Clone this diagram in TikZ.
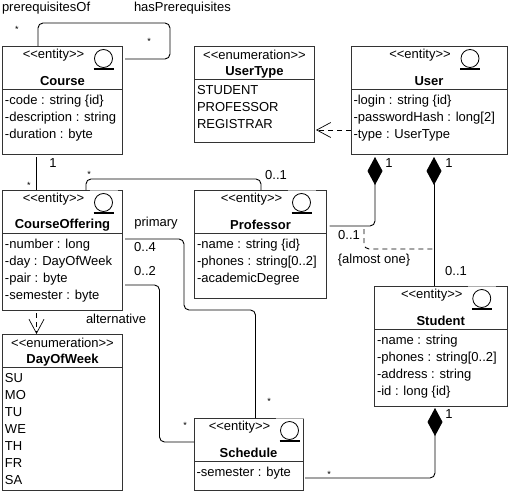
\documentclass[tikz,border=0pt]{standalone}
\usepackage{fontspec}
\usetikzlibrary{arrows.meta}
\newfontfamily\umlfont{Liberation Sans}
\tikzset{
    umlbox/.style={draw=black!80,line width=0.9pt,anchor=north west,inner sep=0pt,outer sep=0pt},
    umlrule/.style={draw=black!80,line width=0.9pt},
    umltext/.style={font=\umlfont\fontsize{13}{17}\selectfont,inner sep=0pt,outer sep=0pt},
    umlattrs/.style={umltext,anchor=north west,align=left},
    umltitle/.style={umltext,font=\umlfont\bfseries\fontsize{13}{17}\selectfont},
    umlicon/.style={draw=black,circle,line width=0.8pt,minimum size=18pt,inner sep=0pt},
    link/.style={draw=black,line width=0.9pt,rounded corners=5pt},
    dependency/.style={link,dashed,dash pattern=on 5pt off 4pt,-{Straight Barb[length=14pt,width=15pt,line width=0.7pt]}},
    owner/.style={link,-{Diamond[length=28pt,width=15pt]}},
    multi/.style={umltext},
    many/.style={umltext,font=\umlfont\fontsize{9}{9}\selectfont}
}
\newcommand{\entity}[7]{
    \node (#1) [umlbox,minimum width=#4pt,minimum height=#5pt] at (#2,#3) {};
    \draw [umlrule] ([yshift=-43pt]#1.north west) -- ([yshift=-43pt]#1.north east);
    \draw [white,opacity=0.6,line width=1pt] ([shift={(27pt,0pt)}]#1.north) -- ([shift={(55pt,0pt)}]#1.north);
    \node (#1Kind) [umltext] at ([shift={(-9pt,-9pt)}]#1.north) {<<entity>>};
    \node (#1Icon) [umlicon] at ([shift={(41pt,-12.5pt)}]#1.north) {};
    \draw [line width=1.3pt] ([shift={(-10pt,-1pt)}]#1Icon.south) -- ([shift={(10pt,-1pt)}]#1Icon.south);
    \node (#1Name) [umltitle] at ([yshift=-35pt]#1.north) {#6};
    \node (#1Attrs) [umlattrs] at ([shift={(2.5pt,-47pt)}]#1.north west) {\strut #7};
}
\newcommand{\enumbox}[7]{
    \node (#1) [umlbox,minimum width=#4pt,minimum height=#5pt] at (#2,#3) {};
    \draw [umlrule] ([yshift=-33pt]#1.north west) -- ([yshift=-33pt]#1.north east);
    \node (#1Kind) [umltext] at ([yshift=-9pt]#1.north) {<<enumeration>>};
    \node (#1Name) [umltitle] at ([yshift=-26pt]#1.north) {#6};
    \node (#1Attrs) [umlattrs] at ([shift={(2.5pt,-37pt)}]#1.north west) {\strut #7};
}
\begin{document}
\begin{tikzpicture}[x=1pt,y=-1pt]
    \useasboundingbox (0,0) rectangle (511,492);
    \entity{course}{2.5}{46}{120}{108}{Course}{-code : string \{id\}\\-description : string\\-duration : byte}
    \entity{offering}{2.5}{190}{120}{120}{CourseOffering}{-number : long\\-day : DayOfWeek\\-pair : byte\\-semester : byte}
    \enumbox{dayOfWeek}{2.5}{334}{120}{156}{DayOfWeek}{SU\\MO\\TU\\WE\\TH\\FR\\SA}
    \enumbox{userType}{194.5}{46}{120}{96}{UserType}{STUDENT\\PROFESSOR\\REGISTRAR}
    \entity{user}{351}{46}{156}{108}{User}{-login : string \{id\}\\-passwordHash : long[2]\\-type : UserType}
    \entity{professor}{194.5}{190}{132}{108}{Professor}{-name : string \{id\}\\-phones : string[0..2]\\-academicDegree}
    \entity{student}{374.5}{286}{132.5}{120}{Student}{-name : string\\-phones : string[0..2]\\-address : string\\-id : long \{id\}}
    \entity{schedule}{194}{418}{109}{72}{Schedule}{-semester : byte}

    \coordinate (loopCorner) at (170,23);
    \coordinate (teachCorner) at (261,179);
    \coordinate (primaryCorner) at (184,310);
    \coordinate (alternativeCorner) at (159.5,442);
    \coordinate (almostStart) at (364,229);
    \coordinate (almostEnd) at (434,249);

    \draw [link] ([xshift=35.5pt]course.north west) |- (loopCorner) |- ([shift={(2.5pt,-13pt)}]course.north east);
    \draw [link] ([shift={(34pt,-3pt)}]course.south west) -- ([xshift=34pt]offering.north west);
    \draw [link] ([xshift=83.5pt]offering.north west) |- (teachCorner) -- ([xshift=66.5pt]professor.north west);
    \draw [dependency] ([shift={(34pt,-3pt)}]offering.south west) -- ([xshift=34pt]dayOfWeek.north west);
    \draw [dependency] ([yshift=-84pt]user.north west) -- ([shift={(1.5pt,-84pt)}]userType.north east);
    \draw [owner] ([shift={(3pt,-36pt)}]professor.north east) -| ([shift={(24pt,-3pt)}]user.south west);
    \draw [owner] ([xshift=59.5pt]student.north west) -- ([shift={(83pt,-3pt)}]user.south west);
    \draw [link,dashed,dash pattern=on 5pt off 4pt] (almostStart) |- (almostEnd);
    \draw [link] ([shift={(2.5pt,-49pt)}]offering.north east) -| (primaryCorner) -| ([xshift=61.5pt]schedule.north west);
    \draw [link] ([shift={(2.5pt,-95pt)}]offering.north east) -| (alternativeCorner) -- ([yshift=-24pt]schedule.north west);
    \draw [owner] ([shift={(2pt,-60pt)}]schedule.north east) -| ([shift={(60.5pt,-2pt)}]student.south west);

    \node (ofRole) [umltext,anchor=west] at (2,8) {prerequisitesOf};
    \node (hasRole) [umltext,anchor=west] at (134,8) {hasPrerequisites};
    \node (primaryRole) [umltext] at (156,223) {primary};
    \node (alternativeRole) [umltext] at (116,319) {alternative};
    \node (almostOne) [umltext] at (374,260) {\{almost one\}};

    \node (loopFrom) [many] at (17,29) {*};
    \node (loopTo) [many] at (149,41) {*};
    \node (courseOne) [multi] at (53,163) {1};
    \node (courseMany) [many] at (29,185) {*};
    \node (teachMany) [many] at (89,174) {*};
    \node (teachOne) [multi] at (276,175) {0..1};
    \node (primaryFrom) [multi] at (145,247) {0..4};
    \node (alternativeFrom) [multi] at (145,271) {0..2};
    \node (primaryTo) [many] at (269,401) {*};
    \node (alternativeTo) [many] at (185,425) {*};
    \node (profUser) [multi] at (389,163) {1};
    \node (studUser) [multi] at (449,163) {1};
    \node (userProf) [multi] at (349,235) {0..1};
    \node (userStud) [multi] at (456,271) {0..1};
    \node (studOne) [multi] at (449,414) {1};
    \node (studMany) [many] at (329,474) {*};
\end{tikzpicture}
\end{document}
